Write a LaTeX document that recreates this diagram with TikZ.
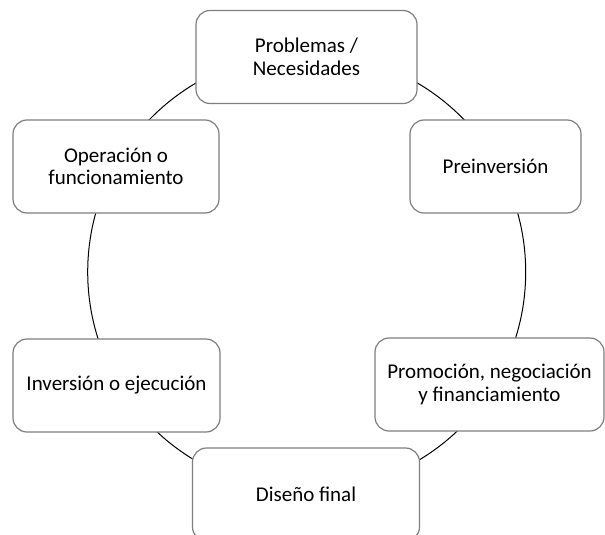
\documentclass[tikz,border=0pt]{standalone}
\usepackage{fontspec}
\setmainfont{Carlito}
\begin{document}
\begin{tikzpicture}[x=1pt,y=-1pt,
  stagebox/.style={draw=boxgray, line width=1.2pt, fill=white, rounded corners=14pt,
    minimum height=93pt, inner sep=0pt, align=center,
    font=\fontsize{21}{22.5}\selectfont},
  ring/.style={draw=black, line width=1pt}]
\definecolor{boxgray}{HTML}{7F7F7F}
\useasboundingbox (0,0) rectangle (605,535);
\clip (0,0) rectangle (605,535);
\fill[white] (0,0) rectangle (605,535);
\coordinate (c) at (306.7,272);
\draw[ring] (c) circle[radius=219pt];
\node[stagebox, minimum width=221pt] (p) at (306.5,57) {Problemas /\\Necesidades};
\node[stagebox, minimum width=171pt] (pre) at (495.5,166.5) {Preinversión};
\node[stagebox, minimum width=229pt] (prom) at (489.5,384.5) {Promoción, negociación\\y financiamiento};
\node[stagebox, minimum width=227pt] (dis) at (306,494.5) {Diseño final};
\node[stagebox, minimum width=207pt] (inv) at (116.5,385.5) {Inversión o ejecución};
\node[stagebox, minimum width=206pt] (op) at (116,166.5) {Operación o\\funcionamiento};
\end{tikzpicture}
\end{document}
